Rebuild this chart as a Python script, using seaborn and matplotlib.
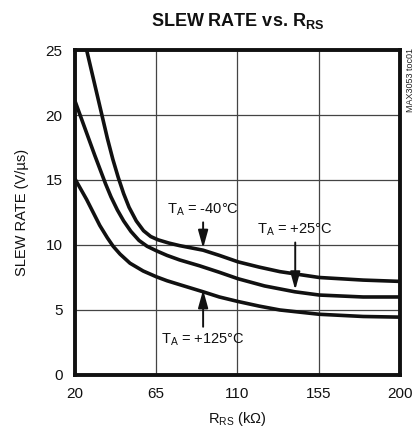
import numpy as np
import pandas as pd
import matplotlib
matplotlib.use("Agg")
import matplotlib.pyplot as plt
import seaborn as sns

# ── data ──
r_m40 = [26.5, 38.0, 41.0, 44.0, 47.0, 50.0, 54.0, 58.0, 62.0, 66.0, 72.0, 78.0,
         91.0, 100.0, 110.4, 122.0, 133.5, 155.3, 179.6, 200.0]
sr_m40 = [25.0, 18.2, 16.6, 15.2, 13.95, 12.9, 11.85, 11.1, 10.65, 10.4, 10.15, 9.95,
          9.6, 9.2, 8.7, 8.3, 7.95, 7.5, 7.3, 7.2]

r_25 = [20.0, 31.0, 34.0, 37.0, 40.0, 43.5, 47.0, 51.0, 55.5, 60.0, 65.2, 71.0,
        78.0, 89.0, 100.0, 110.4, 125.0, 141.8, 155.3, 179.6, 200.0]
sr_25 = [21.1, 16.9, 15.8, 14.7, 13.7, 12.7, 11.85, 11.05, 10.35, 9.9, 9.55, 9.2,
         8.85, 8.4, 7.9, 7.4, 6.85, 6.4, 6.15, 6.0, 6.0]

r_125 = [20.0, 26.5, 33.8, 38.0, 41.2, 45.0, 50.5, 57.8, 65.2, 71.0, 78.0, 91.0,
         100.0, 110.4, 122.0, 133.5, 155.3, 179.6, 200.0]
sr_125 = [15.1, 13.5, 11.5, 10.55, 9.9, 9.3, 8.6, 8.0, 7.55, 7.25, 6.95, 6.4,
          6.0, 5.65, 5.3, 5.0, 4.67, 4.5, 4.45]

x_ticks = [20, 65, 110, 155, 200]
y_ticks = [0, 5, 10, 15, 20, 25]

sns.set_style("white")
plt.rcParams['font.family'] = ['Liberation Sans', 'DejaVu Sans']
plt.rcParams['mathtext.fontset'] = 'custom'
plt.rcParams['mathtext.rm'] = 'Liberation Sans'
plt.rcParams['mathtext.it'] = 'Liberation Sans'
plt.rcParams['mathtext.bf'] = 'Liberation Sans:bold'

fig = plt.figure(figsize=(4.16, 4.33), dpi=100)
ax = fig.add_axes([0.18, 0.134, 0.7815, 0.7505])

for rr, ss in [(r_m40, sr_m40), (r_25, sr_25), (r_125, sr_125)]:
    df = pd.DataFrame({"r": rr, "sr": ss})
    sns.lineplot(data=df, x="r", y="sr", ax=ax, color="#111111", lw=2.6,
                 sort=False, solid_joinstyle="round", solid_capstyle="butt")

ax.set_xlim(20, 200)
ax.set_ylim(0, 25)
ax.set_xticks(x_ticks)
ax.set_yticks(y_ticks)
ax.grid(True, color="#444444", lw=0.9)
ax.tick_params(length=0, labelsize=11, pad=9, colors="#111111")
for sp in ax.spines.values():
    sp.set_linewidth(2.8)
    sp.set_color("#111111")

ax.set_xlabel(r"R$_{\rm RS}$ (k$\Omega$)", fontsize=10.5, labelpad=6, color="#111111")
ax.set_ylabel("SLEW RATE (V/µs)", fontsize=10.5, labelpad=12, color="#111111")
fig.text(0.572, 0.928, r"SLEW RATE vs. R$_{\mathbf{RS}}$", ha="center", va="bottom",
         fontsize=13, fontweight="bold", color="#111111")
fig.text(0.986, 0.89, "MAX3053 toc01", rotation=90, ha="center", va="top",
         fontsize=6.5, color="#222222")

arrow = dict(arrowstyle="-|>,head_length=0.9,head_width=0.25", color="#111111",
             lw=1.4, mutation_scale=12, shrinkA=1, shrinkB=0)
ax.annotate(r"T$_{\rm A}$ = -40°C", xy=(91, 9.75), xytext=(91, 12.1),
            ha="center", va="bottom", fontsize=10.5, color="#111111", arrowprops=arrow)
ax.annotate(r"T$_{\rm A}$ = +25°C", xy=(142, 6.55), xytext=(142, 10.55),
            ha="center", va="bottom", fontsize=10.5, color="#111111", arrowprops=arrow)
ax.annotate(r"T$_{\rm A}$ = +125°C", xy=(91, 6.55), xytext=(91, 3.35),
            ha="center", va="top", fontsize=10.5, color="#111111", arrowprops=arrow)

fig.savefig("out.png", dpi=100)
